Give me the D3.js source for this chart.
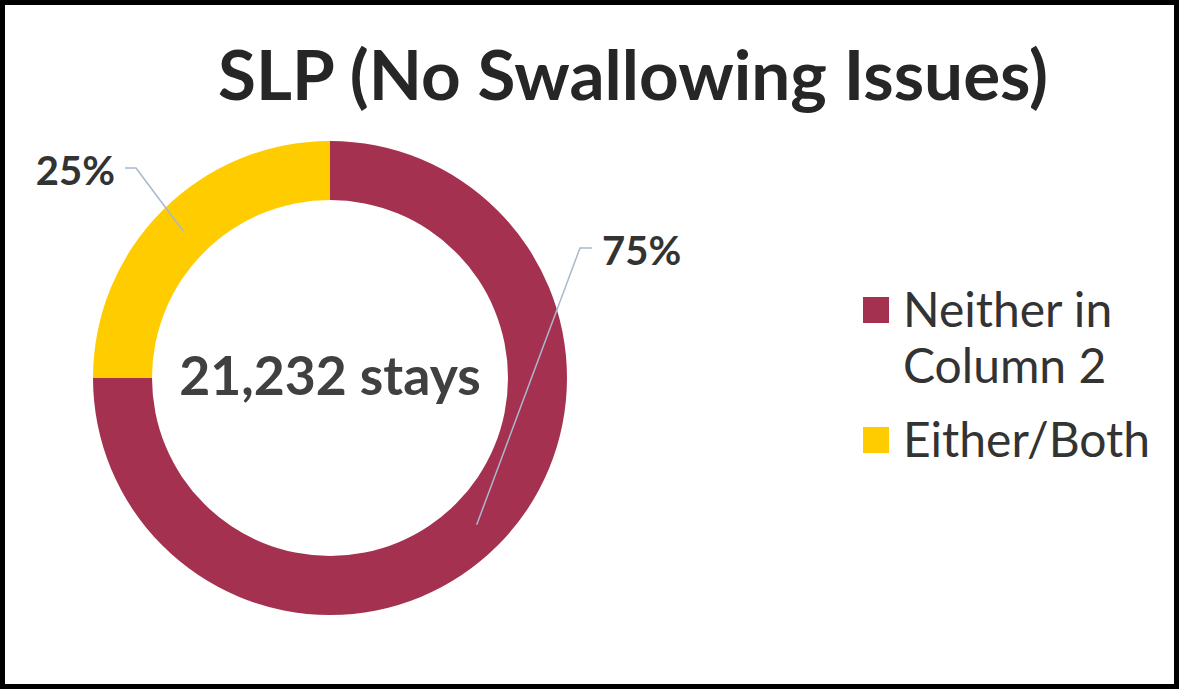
<!DOCTYPE html>
<html><head><meta charset="utf-8">
<script src="https://cdn.jsdelivr.net/npm/d3@7"></script>
<style>html,body{margin:0;padding:0;background:#fff;}svg{display:block;}</style>
</head><body>
<script>
const title = "SLP (No Swallowing Issues)";
const categories = ["Neither in Column 2", "Either/Both"];
const legendLines = [["Neither in", "Column 2"], ["Either/Both"]];
const values = [75, 25];
const colors = ["#A4314F", "#FFCC00"];
const centerLabel = "21,232 stays";

const W = 1181, H = 691;
const svg = d3.select("body").append("svg").attr("width", W).attr("height", H);
svg.append("rect").attr("x", 2.5).attr("y", 2.5).attr("width", W - 7).attr("height", H - 7)
  .attr("fill", "#fff").attr("stroke", "#000").attr("stroke-width", 5);

svg.append("text").attr("x", 633).attr("y", 100).attr("text-anchor", "middle")
  .attr("font-family", "Lato").attr("font-weight", 700).attr("font-size", 68)
  .attr("fill", "#262626").attr("textLength", 830).attr("lengthAdjust", "spacingAndGlyphs").text(title);

const cx = 330, cy = 378, rOut = 237, rIn = 178;
const pie = d3.pie().sort(null).value(d => d)(values);
const arc = d3.arc().innerRadius(rIn).outerRadius(rOut);
const g = svg.append("g").attr("transform", `translate(${cx},${cy})`);
g.selectAll("path").data(pie).join("path").attr("d", arc).attr("fill", (d, i) => colors[i]);

// leader lines and labels
const labelCfg = [
  {elbow: [580 - cx, 248 - cy], end: [592 - cx, 248 - cy], tx: 602 - cx, ty: 265 - cy, anchor: "start"},
  {elbow: [136 - cx, 168 - cy], end: [125 - cx, 168 - cy], tx: 115 - cx, ty: 185 - cy, anchor: "end"}
];
const rMid = (rIn + rOut) / 2;
pie.forEach((d, i) => {
  const c = labelCfg[i];
  const a = (d.startAngle + d.endAngle) / 2;
  const p = [rMid * Math.sin(a), -rMid * Math.cos(a)];
  g.append("polyline").attr("points", [p, c.elbow, c.end].map(q => q.join(",")).join(" "))
    .attr("fill", "none").attr("stroke", "#A9B8CB").attr("stroke-width", 1.5);
  g.append("text").attr("x", c.tx).attr("y", c.ty).attr("text-anchor", c.anchor)
    .attr("font-family", "Lato").attr("font-weight", 700).attr("font-size", 40)
    .attr("fill", "#333").text(Math.round(d.data) + "%");
});

svg.append("text").attr("x", cx).attr("y", 395).attr("text-anchor", "middle")
  .attr("font-family", "Lato").attr("font-weight", 700).attr("font-size", 53.5)
  .attr("fill", "#404040").text(centerLabel);

// legend
const legendY = [297, 427];
categories.forEach((c, i) => {
  svg.append("rect").attr("x", 863).attr("y", legendY[i]).attr("width", 26).attr("height", 26).attr("fill", colors[i]);
  legendLines[i].forEach((ln, j) => {
    svg.append("text").attr("x", 903).attr("y", legendY[i] + 30 + j * 56)
      .attr("font-family", "Lato").attr("font-size", 48).attr("fill", "#333").text(ln);
  });
});
</script>
</body></html>
